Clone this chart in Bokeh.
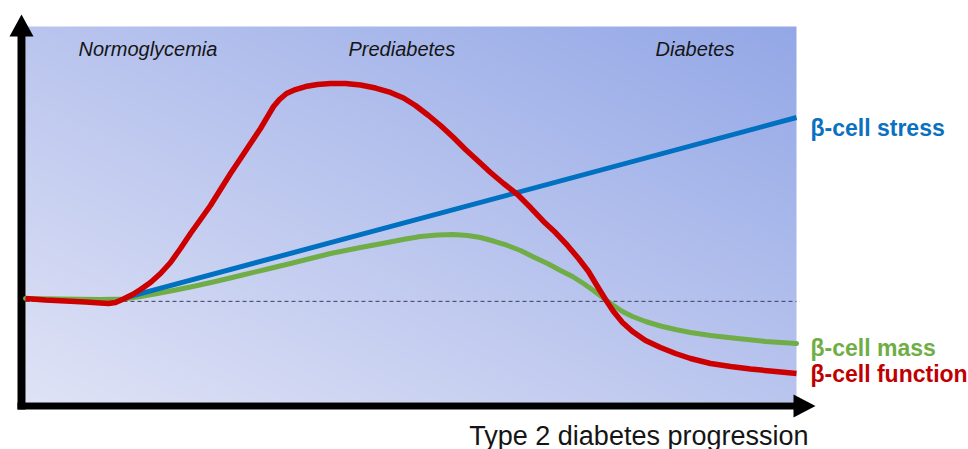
import numpy as np
from bokeh.plotting import figure
from bokeh.models import Range1d, Label
from bokeh.embed import file_html
from bokeh.resources import INLINE

# ---------------- data (progression 0..100, level 0..100) ----------------
red_x = [0, 2.59, 5.19, 7.78, 9.73, 10.77, 11.67, 12.71, 13.88, 14.92, 16.21, 17.51, 18.81,
         20.10, 21.40, 22.70, 23.99, 25.29, 26.59, 27.89, 29.18, 30.48, 31.39, 32.17, 32.94,
         33.85, 35.02, 36.32, 37.87, 39.56, 41.50, 43.45, 45.40, 47.34, 49.03, 50.58, 52.27,
         53.83, 55.51, 57.07, 58.63, 60.31, 62.00, 63.81, 65.50, 67.19, 68.74, 70.30, 71.73,
         73.02, 74.19, 75.23, 76.26, 77.43, 78.73, 80.42, 82.36, 84.31, 86.25, 88.85, 91.44,
         94.03, 97.28, 100]
beta_function = [27.66, 27.26, 26.99, 26.73, 26.46, 26.33, 26.60, 27.53, 28.72, 30.05, 31.91,
                 34.31, 37.23, 40.96, 44.95, 48.67, 52.39, 56.65, 60.90, 64.89, 68.88, 72.87,
                 76.06, 78.72, 80.59, 82.18, 83.24, 84.04, 84.57, 84.84, 84.84, 84.44, 83.64,
                 82.45, 80.98, 78.99, 76.33, 73.67, 70.48, 67.29, 64.36, 61.17, 58.24, 55.32,
                 51.86, 48.14, 45.21, 41.76, 38.30, 34.84, 30.85, 27.39, 24.20, 21.28, 18.88,
                 16.49, 14.63, 13.03, 11.70, 10.37, 9.57, 8.91, 8.24, 7.71]

green_x = [0, 4.54, 9.73, 12.71, 14.92, 17.12, 19.46, 21.40, 24.64, 27.89, 31.13, 34.37,
           36.96, 39.56, 43.45, 46.95, 49.29, 51.23, 53.44, 55.51, 57.33, 59.01, 60.70, 62.52,
           64.20, 65.89, 67.70, 69.39, 70.95, 72.37, 73.67, 74.97, 76.26, 77.43, 78.73, 80.42,
           82.36, 84.31, 86.25, 88.85, 92.35, 95.98, 100]
beta_mass = [27.66, 27.53, 27.39, 27.53, 28.19, 28.99, 29.92, 30.72, 32.18, 33.78, 35.37,
             36.97, 38.30, 39.63, 41.22, 42.55, 43.48, 44.15, 44.55, 44.68, 44.41, 43.88,
             42.95, 41.76, 40.43, 38.70, 36.97, 35.11, 33.51, 31.65, 29.79, 27.79, 25.80,
             24.20, 22.87, 21.54, 20.35, 19.41, 18.62, 17.82, 17.02, 16.22, 15.69]

blue_x = [12.97, 39.56, 100]
beta_stress = [27.9, 42.5, 75.8]

baseline_x = [0, 100]
baseline_level = [26.9, 26.9]

stages = ["Normoglycemia", "Prediabetes", "Diabetes"]
series_names = ["\u03b2-cell stress", "\u03b2-cell mass", "\u03b2-cell function"]
x_title = "Type 2 diabetes progression"

RED = "#cc0000"
BLUE = "#0070c0"
GREEN = "#70ad47"

W, H = 968, 449
# pixel mapping: x 0..100 -> 25..796 px ; y 0..100 -> 402..26 px
sx = 7.71
sy = 3.76
x0px, y0px = 25, 402

p = figure(width=W, height=H, output_backend="svg", toolbar_location=None,
           x_range=Range1d(-x0px / sx, (W - x0px) / sx),
           y_range=Range1d(-(H - y0px) / sy, y0px / sy),
           min_border=0, min_border_left=0, min_border_right=0,
           min_border_top=0, min_border_bottom=0)
p.xaxis.visible = False
p.yaxis.visible = False
p.grid.visible = False
p.outline_line_color = None
p.background_fill_color = "white"
p.border_fill_color = "white"

# ---------------- gradient background ----------------
nx, ny = 400, 200
u = np.linspace(0, 1, nx)[None, :]
v = np.linspace(0, 1, ny)[:, None]
t = (u + v) / 2.0
bl = np.array([224, 227, 246])
tr = np.array([148, 168, 231])
img = np.empty((ny, nx), dtype=np.uint32)
view = img.view(dtype=np.uint8).reshape((ny, nx, 4))
for k in range(3):
    view[:, :, k] = (bl[k] + (tr[k] - bl[k]) * t).astype(np.uint8)
view[:, :, 3] = 255
p.image_rgba(image=[img], x=0, y=0, dw=100, dh=100)

# ---------------- axes arrows ----------------
def px2x(px):
    return (px - x0px) / sx

def py2y(py):
    return (y0px - py) / sy

p.quad(left=px2x(17), right=px2x(25), bottom=py2y(409), top=py2y(35),
       fill_color="black", line_color=None)
p.quad(left=px2x(17), right=px2x(794), bottom=py2y(409), top=py2y(402),
       fill_color="black", line_color=None)
p.patch(x=[px2x(9), px2x(21), px2x(33)], y=[py2y(36), py2y(14), py2y(36)],
        fill_color="black", line_color=None)
p.patch(x=[px2x(793), px2x(815), px2x(793)], y=[py2y(394), py2y(405.5), py2y(417)],
        fill_color="black", line_color=None)

# ---------------- reference dashed line ----------------
p.line(baseline_x, baseline_level, line_color="#3c3c5a", line_width=1, line_dash="4 3")

# ---------------- curves ----------------
p.line(green_x, beta_mass, line_color=GREEN, line_width=5, line_join="round", line_cap="round")
p.line(blue_x, beta_stress, line_color=BLUE, line_width=5, line_join="round", line_cap="butt")
p.line(red_x, beta_function, line_color=RED, line_width=5.5, line_join="round", line_cap="butt")

# ---------------- texts ----------------
stage_px = [78, 348, 655]
for name, xp in zip(stages, stage_px):
    p.add_layout(Label(x=px2x(xp), y=py2y(48), text=name, text_font="Liberation Sans",
                       text_font_style="italic", text_font_size="20px",
                       text_color="#151515", text_align="left", text_baseline="alphabetic"))

label_colors = ["#0a70c0", "#6fae45", "#c00000"]
label_base = [127, 347, 373]
for name, col, bp in zip(series_names, label_colors, label_base):
    p.add_layout(Label(x=px2x(810), y=py2y(bp), text=name, text_font="Liberation Sans",
                       text_font_style="bold", text_font_size="23px",
                       text_color=col, text_align="left", text_baseline="alphabetic"))

p.add_layout(Label(x=px2x(808), y=py2y(435), text=x_title, text_font="Liberation Sans",
                   text_font_size="27px", text_color="#151515",
                   text_align="right", text_baseline="alphabetic"))

open("out.html", "w").write(file_html(p, INLINE))
